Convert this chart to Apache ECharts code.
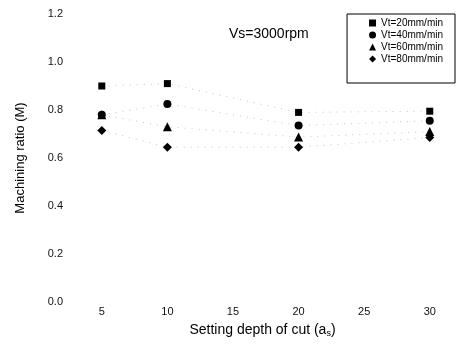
<!DOCTYPE html>
<html>
<head>
<meta charset="utf-8">
<script src="https://cdn.jsdelivr.net/npm/echarts@6/dist/echarts.min.js"></script>
<style>
  html, body { margin: 0; padding: 0; background: #fff; }
</style>
</head>
<body>
<div id="machiningChart" style="width: 457px; height: 346px;"></div>
<script>
// depth of cut values (x) and machining ratio per feed speed
var depths = [5, 10, 20, 30];
var xTicks = [5, 10, 15, 20, 25, 30];
var names = ['Vt=20mm/min', 'Vt=40mm/min', 'Vt=60mm/min', 'Vt=80mm/min'];
var vt20 = [0.90, 0.91, 0.79, 0.795];
var vt40 = [0.78, 0.825, 0.735, 0.755];
var vt60 = [0.78, 0.73, 0.687, 0.71];
var vt80 = [0.715, 0.645, 0.645, 0.685];
var symbols = ['rect', 'circle', 'triangle', 'diamond'];
var sizes = [7, 8, 9, 9];

var myChart = echarts.init(document.getElementById('machiningChart'));

function makeSeries(idx, values) {
  var pts = [];
  for (var i = 0; i < depths.length; i++) {
    pts.push([depths[i], values[i]]);
  }
  return {
    name: names[idx],
    type: 'line',
    data: pts,
    symbol: symbols[idx],
    symbolSize: sizes[idx],
    showAllSymbol: true,
    itemStyle: { color: '#000' },
    lineStyle: { color: '#c4c4c4', width: 1, type: [1, 6] },
    emphasis: { disabled: true },
    z: 3 + idx
  };
}

var option = {
  backgroundColor: '#fff',
  animation: false,
  textStyle: { fontFamily: 'Liberation Sans, Arial, sans-serif', color: '#111' },
  grid: { left: 69, right: 1, top: 14, bottom: 44 },
  legend: {
    orient: 'vertical',
    right: 2,
    top: 14,
    width: 100,
    borderColor: '#000',
    borderWidth: 1,
    padding: [4, 12, 19, 22],
    itemGap: 2,
    itemWidth: 7,
    itemHeight: 7,
    textStyle: { fontSize: 10, lineHeight: 10, color: '#000', fontFamily: 'Liberation Sans Narrow, Liberation Sans, sans-serif' },
    data: names.map(function (n, i) { return { name: n, icon: symbols[i] }; })
  },
  graphic: [
    {
      type: 'text',
      left: 229,
      top: 27,
      style: { text: 'Vs=3000rpm', fontSize: 14, fill: '#000', fontFamily: 'Liberation Sans, Arial, sans-serif' }
    }
  ],
  xAxis: {
    type: 'value',
    min: 2.5,
    max: 32,
    name: 'Setting depth of cut (a{sub|s})',
    nameLocation: 'middle',
    nameGap: 20,
    nameTextStyle: {
      fontSize: 14,
      color: '#000',
      rich: { sub: { fontSize: 9, verticalAlign: 'bottom', padding: [7, 0, 0, 0], color: '#000' } }
    },
    axisLine: { show: false },
    axisTick: { show: false },
    splitLine: { show: false },
    axisLabel: {
      customValues: xTicks,
      fontSize: 11,
      color: '#111',
      margin: 4
    }
  },
  yAxis: {
    type: 'value',
    min: 0,
    max: 1.2,
    interval: 0.2,
    name: 'Machining ratio (M)',
    nameLocation: 'middle',
    nameGap: 42,
    nameTextStyle: { fontSize: 13, color: '#000' },
    axisLine: { show: false },
    axisTick: { show: false },
    splitLine: { show: false },
    axisLabel: {
      fontSize: 11,
      color: '#111',
      margin: 6,
      formatter: function (v) { return v.toFixed(1); }
    }
  },
  series: [
    makeSeries(0, vt20),
    makeSeries(1, vt40),
    makeSeries(2, vt60),
    makeSeries(3, vt80)
  ]
};

myChart.setOption(option);
</script>
</body>
</html>
